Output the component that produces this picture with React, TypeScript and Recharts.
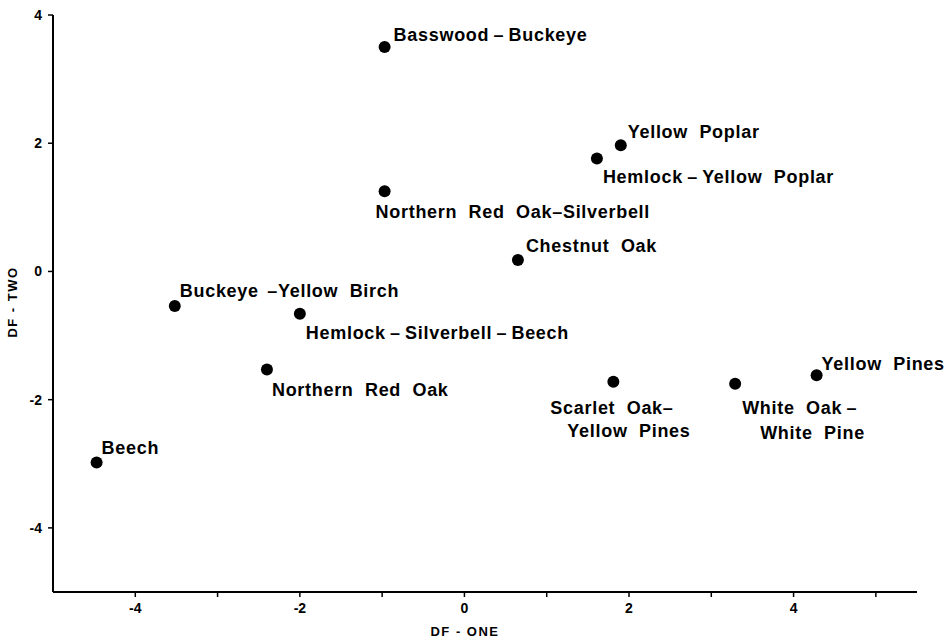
import React from 'react';
import { ScatterChart, Scatter, XAxis, YAxis } from 'recharts';

// Forest cover types plotted on the two discriminant functions
const names = [
  'Basswood-Buckeye',
  'Yellow Poplar',
  'Hemlock-Yellow Poplar',
  'Northern Red Oak-Silverbell',
  'Chestnut Oak',
  'Buckeye-Yellow Birch',
  'Hemlock-Silverbell-Beech',
  'Northern Red Oak',
  'Beech',
  'Scarlet Oak-Yellow Pines',
  'White Oak-White Pine',
  'Yellow Pines',
];
const dfOne = [-0.97, 1.9, 1.61, -0.97, 0.65, -3.52, -2.0, -2.4, -4.47, 1.81, 3.29, 4.28];
const dfTwo = [3.5, 1.97, 1.76, 1.25, 0.18, -0.54, -0.66, -1.53, -2.98, -1.72, -1.75, -1.62];

const xTicks = [-4, -3, -2, -1, 0, 1, 2, 3, 4, 5];
const xTickLabels = ['-4', '', '-2', '', '0', '', '2', '', '4', ''];
const yTicks = [-4, -2, 0, 2, 4];
const yTickLabels = ['-4', '-2', '0', '2', '4'];

const xTitle = 'DF - ONE';
const yTitle = 'DF - TWO';

const data = names.map((name, i) => ({ name, x: dfOne[i], y: dfTwo[i] }));

// label text lines as printed on the figure
const T = '\u2009';
const labelLines: Record<string, string[]> = {
  'Basswood-Buckeye': [`Basswood${T}\u2013${T}Buckeye`],
  'Yellow Poplar': ['Yellow  Poplar'],
  'Hemlock-Yellow Poplar': [`Hemlock${T}\u2013${T}Yellow  Poplar`],
  'Northern Red Oak-Silverbell': ['Northern  Red  Oak\u2013Silverbell'],
  'Chestnut Oak': ['Chestnut  Oak'],
  'Buckeye-Yellow Birch': [`Buckeye${T}${T}\u2013Yellow  Birch`],
  'Hemlock-Silverbell-Beech': [`Hemlock${T}\u2013${T}Silverbell${T}\u2013${T}Beech`],
  'Northern Red Oak': ['Northern  Red  Oak'],
  Beech: ['Beech'],
  'Scarlet Oak-Yellow Pines': ['Scarlet  Oak\u2013', 'Yellow  Pines'],
  'White Oak-White Pine': [`White  Oak${T}\u2013`, 'White  Pine'],
  'Yellow Pines': ['Yellow  Pines'],
};

// label placement relative to each dot (pixels)
const labelOffsets: Record<string, { dx: number; dy: number }[]> = {
  'Basswood-Buckeye': [{ dx: 9, dy: -6 }],
  'Yellow Poplar': [{ dx: 7, dy: -7 }],
  'Hemlock-Yellow Poplar': [{ dx: 6, dy: 24 }],
  'Northern Red Oak-Silverbell': [{ dx: -9, dy: 27 }],
  'Chestnut Oak': [{ dx: 8, dy: -8 }],
  'Buckeye-Yellow Birch': [{ dx: 5, dy: -9 }],
  'Hemlock-Silverbell-Beech': [{ dx: 6, dy: 25 }],
  'Northern Red Oak': [{ dx: 5, dy: 26 }],
  Beech: [{ dx: 5, dy: -8 }],
  'Scarlet Oak-Yellow Pines': [
    { dx: -63, dy: 32 },
    { dx: -46, dy: 55 },
  ],
  'White Oak-White Pine': [
    { dx: 7, dy: 30 },
    { dx: 25, dy: 55 },
  ],
  'Yellow Pines': [{ dx: 5, dy: -5 }],
};

const FONT = '"Liberation Sans", Arial, Helvetica, sans-serif';

const DotWithLabel = (props: any) => {
  const { cx, cy, payload } = props;
  const name = payload?.name as string;
  const lines = labelLines[name] || [name];
  const offs = labelOffsets[name] || [{ dx: 6, dy: -6 }];
  return (
    <g>
      <circle cx={cx} cy={cy} r={6} fill="#000" />
      {lines.map((ln, i) => (
        <text
          key={i}
          x={cx + offs[i].dx}
          y={cy + offs[i].dy}
          fontFamily={FONT}
          fontWeight="bold"
          fontSize={18}
          letterSpacing={0.7}
          fill="#000"
          style={{ whiteSpace: 'pre' }}
        >
          {ln}
        </text>
      ))}
    </g>
  );
};

const XTitle = () => (
  <text
    x={465}
    y={636}
    textAnchor="middle"
    fontFamily={FONT}
    fontWeight="bold"
    fontSize={13}
    letterSpacing={1.5}
    fill="#000"
    style={{ whiteSpace: 'pre' }}
  >
    {xTitle}
  </text>
);

const YTitle = () => (
  <text
    x={0}
    y={0}
    transform="translate(17 302) rotate(-90)"
    textAnchor="middle"
    fontFamily={FONT}
    fontWeight="bold"
    fontSize={13}
    letterSpacing={1.5}
    fill="#000"
    style={{ whiteSpace: 'pre' }}
  >
    {yTitle}
  </text>
);

const tickStyle = { fontFamily: FONT, fontWeight: 'bold' as const, fontSize: 14, fill: '#000' };

export default function App() {
  return (
    <div style={{ position: 'absolute', left: 0, top: 0, width: 948, height: 638, background: '#fff' }}>
      <ScatterChart width={948} height={638} margin={{ top: 15, right: 31, bottom: 16, left: 13 }}>
        <XAxis
          type="number"
          dataKey="x"
          domain={[-5, 5.5]}
          ticks={xTicks}
          interval={0}
          tickFormatter={(v: number) => xTickLabels[xTicks.indexOf(v)] ?? ''}
          stroke="#000"
          strokeWidth={2}
          tickSize={5}
          tickMargin={6}
          tick={tickStyle}
          tickLine={{ stroke: '#000', strokeWidth: 1.5 }}
          height={30}
          label={<XTitle />}
        />
        <YAxis
          type="number"
          dataKey="y"
          domain={[-5, 4]}
          ticks={yTicks}
          interval={0}
          tickFormatter={(v: number) => yTickLabels[yTicks.indexOf(v)] ?? ''}
          stroke="#000"
          strokeWidth={2}
          tickSize={5}
          tickMargin={6}
          tick={tickStyle}
          tickLine={{ stroke: '#000', strokeWidth: 1.5 }}
          width={40}
          label={<YTitle />}
        />
        <Scatter data={data} fill="#000" shape={DotWithLabel} isAnimationActive={false} />
      </ScatterChart>
    </div>
  );
}
